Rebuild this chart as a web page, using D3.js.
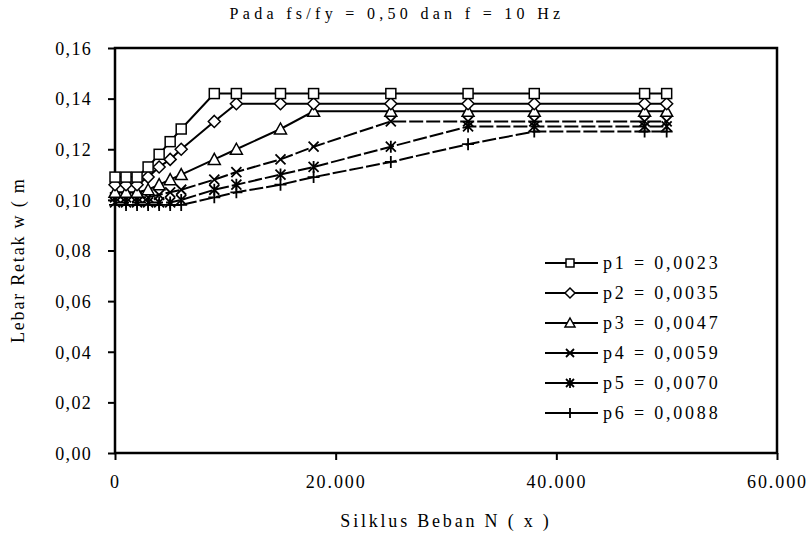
<!DOCTYPE html>
<html lang="en">
<head>
  <meta charset="UTF-8">
  <title>Lebar Retak vs Silklus Beban</title>
  <script src="https://d3js.org/d3.v7.min.js"></script>
  <style>
    body { margin: 0; background: #fff; }
    svg text { font-family: "Liberation Serif", "Times New Roman", serif; fill: #000; }
    .tick-label { font-size: 18px; letter-spacing: 1.3px; }
    .x-tick { letter-spacing: 1.9px; }
    .title { font-size: 16px; letter-spacing: 4.3px; }
    .axis-title { font-size: 18px; letter-spacing: 2.8px; }
    .y-title { letter-spacing: 1.8px; }
    .legend-label { font-size: 18px; letter-spacing: 2.8px; }
  </style>
</head>
<body>
  <svg width="812" height="533"></svg>

  <script>
    // cycles N
    const cycles = [0, 1000, 2000, 3000, 4000, 5000, 6000, 9000, 11000, 15000, 18000, 25000, 32000, 38000, 48000, 50000];

    const p1 = [0.109, 0.109, 0.109, 0.113, 0.118, 0.123, 0.128, 0.142, 0.142, 0.142, 0.142, 0.142, 0.142, 0.142, 0.142, 0.142];
    const p2 = [0.106, 0.106, 0.106, 0.109, 0.113, 0.116, 0.120, 0.131, 0.138, 0.138, 0.138, 0.138, 0.138, 0.138, 0.138, 0.138];
    const p3 = [0.103, 0.103, 0.103, 0.104, 0.106, 0.108, 0.110, 0.116, 0.120, 0.128, 0.135, 0.135, 0.135, 0.135, 0.135, 0.135];
    const p4 = [0.101, 0.101, 0.101, 0.101, 0.102, 0.103, 0.104, 0.108, 0.111, 0.116, 0.121, 0.131, 0.131, 0.131, 0.131, 0.131];
    const p5 = [0.099, 0.099, 0.099, 0.099, 0.099, 0.099, 0.100, 0.104, 0.106, 0.110, 0.113, 0.121, 0.129, 0.129, 0.129, 0.129];
    const p6 = [0.098, 0.098, 0.098, 0.098, 0.098, 0.098, 0.098, 0.101, 0.103, 0.106, 0.109, 0.115, 0.122, 0.127, 0.127, 0.127];

    const seriesNames = ["p1 = 0,0023", "p2 = 0,0035", "p3 = 0,0047", "p4 = 0,0059", "p5 = 0,0070", "p6 = 0,0088"];
    const seriesValues = [p1, p2, p3, p4, p5, p6];
    const markerTypes = ["square", "diamond", "triangle", "x", "star", "plus"];

    const xTicks = [0, 20000, 40000, 60000];
    const xTickLabels = ["0", "20.000", "40.000", "60.000"];
    const yTicks = [0, 0.02, 0.04, 0.06, 0.08, 0.10, 0.12, 0.14, 0.16];

    const svg = d3.select("svg"),
        margin = {top: 48, right: 35, bottom: 80, left: 115},
        width = +svg.attr("width") - margin.left - margin.right,
        height = +svg.attr("height") - margin.top - margin.bottom,
        g = svg.append("g").attr("transform", "translate(" + margin.left + "," + margin.top + ")");

    const x = d3.scaleLinear().domain([0, 60000]).range([0, width]);
    const y = d3.scaleLinear().domain([0, 0.16]).range([height, 0]);

    const commaFmt = d => d3.format(".2f")(d).replace(".", ",");

    // axes
    const xAxis = g.append("g")
        .attr("transform", "translate(0," + height + ")")
        .call(d3.axisBottom(x).tickValues(xTicks).tickSize(7).tickPadding(12)
              .tickFormat((d, i) => xTickLabels[i]));
    const yAxis = g.append("g")
        .call(d3.axisLeft(y).tickValues(yTicks).tickSize(7).tickPadding(16).tickFormat(commaFmt));

    [xAxis, yAxis].forEach(ax => {
      ax.attr("font-family", null).attr("font-size", null);
      ax.select(".domain").remove();
      ax.selectAll(".tick line").attr("stroke", "#000").attr("stroke-width", 2);
      ax.selectAll(".tick text").attr("class", "tick-label");
    });
    yAxis.selectAll(".tick text").attr("dy", "0.35em");
    xAxis.selectAll(".tick text").attr("class", "tick-label x-tick").attr("dy", "0.9em");

    // frame
    g.append("rect")
        .attr("width", width).attr("height", height)
        .attr("fill", "none").attr("stroke", "#000").attr("stroke-width", 2.5);

    // marker drawing
    function marker(sel, type, s) {
      const h = s / 2;
      if (type === "square") {
        sel.append("rect").attr("x", -h).attr("y", -h).attr("width", s).attr("height", s)
          .attr("fill", "#fff").attr("stroke", "#000").attr("stroke-width", 1.5);
      } else if (type === "diamond") {
        sel.append("path").attr("d", `M0,${-h - 1}L${h + 1},0L0,${h + 1}L${-h - 1},0Z`)
          .attr("fill", "#fff").attr("stroke", "#000").attr("stroke-width", 1.5);
      } else if (type === "triangle") {
        sel.append("path").attr("d", `M0,${-h - 1}L${h + 1},${h}L${-h - 1},${h}Z`)
          .attr("fill", "#fff").attr("stroke", "#000").attr("stroke-width", 1.5);
      } else if (type === "x") {
        sel.append("path").attr("d", `M${-h},${-h}L${h},${h}M${-h},${h}L${h},${-h}`)
          .attr("stroke", "#000").attr("stroke-width", 1.8);
      } else if (type === "star") {
        sel.append("path").attr("d", `M${-h},${-h}L${h},${h}M${-h},${h}L${h},${-h}M0,${-h - 1}L0,${h + 1}`)
          .attr("stroke", "#000").attr("stroke-width", 1.8);
      } else if (type === "plus") {
        sel.append("path").attr("d", `M${-h - 1},0L${h + 1},0M0,${-h - 1}L0,${h + 1}`)
          .attr("stroke", "#000").attr("stroke-width", 1.8);
      }
    }

    const line = d3.line()
        .x(d => x(d[0]))
        .y(d => y(d[1]));

    // draw from the bottom series up so upper markers sit on top
    seriesValues.slice().reverse().forEach((vals, ri) => {
      const i = seriesValues.length - 1 - ri;
      const pts = cycles.map((c, k) => [c, vals[k]]);
      g.append("path")
          .datum(pts)
          .attr("fill", "none")
          .attr("stroke", "#000")
          .attr("stroke-width", 2)
          .attr("stroke-dasharray", i >= 3 ? "14,3" : null)
          .attr("d", line);
      g.selectAll(".m" + i)
        .data(pts)
        .join("g")
          .attr("class", "m" + i)
          .attr("transform", d => "translate(" + x(d[0]) + "," + y(d[1]) + ")")
          .each(function() { marker(d3.select(this), markerTypes[i], 10); });
    });

    // legend
    const legend = svg.append("g").attr("transform", "translate(545,263)");
    seriesNames.forEach((name, i) => {
      const row = legend.append("g").attr("transform", "translate(0," + (i * 30) + ")");
      row.append("line").attr("x1", 0).attr("x2", 53).attr("stroke", "#000").attr("stroke-width", 2);
      row.append("g").attr("transform", "translate(25,0)")
        .call(s => marker(s, markerTypes[i], 8));
      row.append("text").attr("class", "legend-label")
        .attr("x", 58).attr("dy", "0.35em").text(name);
    });

    // titles
    svg.append("text").attr("class", "title")
        .attr("x", 397).attr("y", 19).attr("text-anchor", "middle")
        .text("Pada fs/fy = 0,50 dan f = 10 Hz");
    svg.append("text").attr("class", "axis-title")
        .attr("x", 446).attr("y", 527).attr("text-anchor", "middle")
        .text("Silklus Beban N ( x )");
    svg.append("text").attr("class", "axis-title y-title")
        .attr("transform", "translate(24,343) rotate(-90)")
        .text("Lebar Retak w ( m");
  </script>
</body>
</html>
